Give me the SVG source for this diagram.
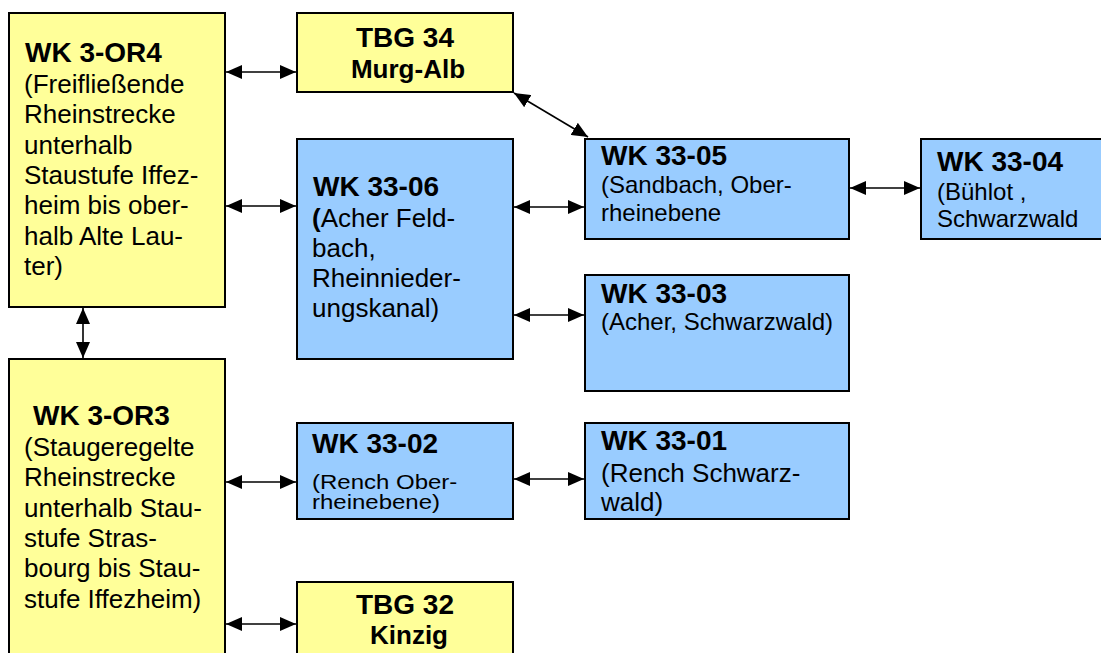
<svg xmlns="http://www.w3.org/2000/svg" width="1101" height="653" viewBox="0 0 1101 653">
<style>
.y{fill:#FFFF99;stroke:#000;stroke-width:2}
.b{fill:#99CCFF;stroke:#000;stroke-width:2}
text{font-family:"Liberation Sans",Arial,sans-serif;fill:#000}
.t{font-size:28px;font-weight:bold}
.s{font-size:26px;font-weight:bold}
.l{font-size:26px}
.m{font-size:24px}
.c{stroke:#000;stroke-width:1.6;fill:none;marker-start:url(#ah);marker-end:url(#ah)}
</style>
<defs>
<marker id="ah" markerUnits="userSpaceOnUse" markerWidth="16" markerHeight="14" refX="16" refY="7" orient="auto-start-reverse" viewBox="0 0 16 14">
<path d="M0,0 L16,7 L0,14 z" fill="#000"/>
</marker>
</defs>
<g id="connectors">
<line class="c" x1="226" y1="72" x2="296" y2="72"/>
<line class="c" x1="226" y1="206" x2="296" y2="206"/>
<line class="c" x1="514" y1="93" x2="588" y2="137"/>
<line class="c" x1="514" y1="207" x2="584" y2="207"/>
<line class="c" x1="514" y1="315" x2="584" y2="315"/>
<line class="c" x1="850" y1="188" x2="920" y2="188"/>
<line class="c" x1="83" y1="308" x2="83" y2="358"/>
<line class="c" x1="226" y1="482" x2="296" y2="482"/>
<line class="c" x1="514" y1="479" x2="584" y2="479"/>
<line class="c" x1="226" y1="624" x2="296" y2="624"/>
</g>
<g id="wk3or4">
<rect class="y" x="9" y="13" width="216" height="294"/>
<text class="t" x="25" y="62">WK 3-OR4</text>
<text class="l" x="24" y="93">(Freifließende</text>
<text class="l" x="24" y="123">Rheinstrecke</text>
<text class="l" x="24" y="154">unterhalb</text>
<text class="l" x="24" y="184">Staustufe Iffez-</text>
<text class="l" x="24" y="214">heim bis ober-</text>
<text class="l" x="24" y="245">halb Alte Lau-</text>
<text class="l" x="24" y="275">ter)</text>
</g>
<g id="tbg34">
<rect class="y" x="297" y="13" width="216" height="79"/>
<text class="t" x="405" y="47" text-anchor="middle">TBG 34</text>
<text class="s" x="408" y="78" text-anchor="middle">Murg-Alb</text>
</g>
<g id="wk3306">
<rect class="b" x="297" y="139" width="216" height="220"/>
<text class="t" x="313" y="196">WK 33-06</text>
<text class="l" x="312" y="227"><tspan font-weight="bold">(</tspan>Acher Feld-</text>
<text class="l" x="312" y="257">bach,</text>
<text class="l" x="312" y="287">Rheinnieder-</text>
<text class="l" x="312" y="317">ungskanal)</text>
</g>
<g id="wk3305">
<rect class="b" x="585" y="139" width="264" height="100"/>
<text class="t" x="601" y="165">WK 33-05</text>
<text class="m" x="601" y="193">(Sandbach, Ober-</text>
<text class="m" x="601" y="221">rheinebene</text>
</g>
<g id="wk3304">
<rect class="b" x="921" y="139" width="200" height="100"/>
<text class="t" x="937" y="171">WK 33-04</text>
<text class="m" x="937" y="200">(Bühlot ,</text>
<text class="m" x="937" y="227">Schwarzwald</text>
</g>
<g id="wk3303">
<rect class="b" x="585" y="275" width="264" height="116"/>
<text class="t" x="601" y="303">WK 33-03</text>
<text class="m" x="601" y="330">(Acher, Schwarzwald)</text>
</g>
<g id="wk3or3">
<rect class="y" x="9" y="359" width="216" height="320"/>
<text class="t" x="33" y="425">WK 3-OR3</text>
<text class="l" x="24" y="456">(Staugeregelte</text>
<text class="l" x="24" y="486">Rheinstrecke</text>
<text class="l" x="24" y="517">unterhalb Stau-</text>
<text class="l" x="24" y="547">stufe Stras-</text>
<text class="l" x="24" y="577">bourg bis Stau-</text>
<text class="l" x="24" y="608">stufe Iffezheim)</text>
</g>
<g id="wk3302">
<rect class="b" x="297" y="423" width="216" height="96"/>
<text class="t" x="312" y="453">WK 33-02</text>
<text class="m" transform="translate(312,489) scale(1,0.82)" x="0" y="0">(Rench Ober-</text>
<text class="m" transform="translate(312,509) scale(1,0.82)" x="0" y="0">rheinebene)</text>
</g>
<g id="wk3301">
<rect class="b" x="585" y="423" width="264" height="96"/>
<text class="t" x="601" y="450">WK 33-01</text>
<text class="l" x="601" y="482">(Rench Schwarz-</text>
<text class="l" x="601" y="511">wald)</text>
</g>
<g id="tbg32">
<rect class="y" x="297" y="582" width="216" height="100"/>
<text class="t" x="405" y="614" text-anchor="middle">TBG 32</text>
<text class="s" x="409" y="644" text-anchor="middle">Kinzig</text>
</g>
</svg>
